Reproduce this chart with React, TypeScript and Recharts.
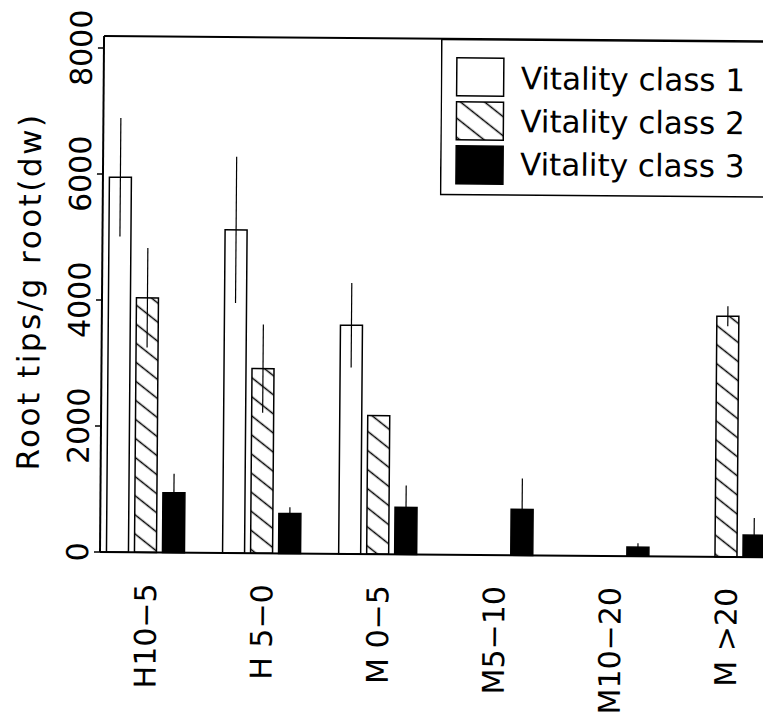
import { BarChart, Bar, XAxis, YAxis, ErrorBar, Legend, ReferenceLine, Label } from 'recharts';

const categories = ['H10−5', 'H 5−0', 'M 0−5', 'M5−10', 'M10−20', 'M >20'];
const positions = [1, 2, 3, 4, 5, 6];

const class1 = [5950, 5130, 3630, null, null, null];
const class1Err = [940, 1160, 670, null, null, null];
const class2 = [4040, 2930, 2200, null, null, 3820];
const class2Err = [790, 700, null, null, null, 160];
const class3 = [950, 635, 745, 730, 145, 350];
const class3Err = [300, 100, 350, 490, 60, 270];

const yTicks = [0, 2000, 4000, 6000, 8000];
const legendLabels = ['Vitality class 1', 'Vitality class 2', 'Vitality class 3'];

const FONT = '"DejaVu Sans", sans-serif';

const data = positions.map((pos, i) => ({
  pos,
  v1: class1[i],
  e1: class1Err[i],
  v2: class2[i],
  e2: class2Err[i],
  v3: class3[i],
  e3: class3Err[i],
}));

const HatchDefs = ({ id }: { id: string }) => (
  <defs>
    <pattern id={id} patternUnits="userSpaceOnUse" width={10} height={15} patternTransform="rotate(38)">
      <line x1={0} y1={7.5} x2={10} y2={7.5} stroke="#000" strokeWidth={1.5} />
    </pattern>
  </defs>
);

const YTick = ({ x, y, payload }: any) => (
  <text
    x={x}
    y={y}
    transform={`rotate(-90 ${x} ${y})`}
    textAnchor="middle"
    fontFamily={FONT}
    fontSize={30}
    fill="#000"
  >
    {payload.value}
  </text>
);

const XTick = ({ x, y, payload }: any) => {
  const tx = x + 11;
  return (
    <text
      x={tx}
      y={y}
      transform={`rotate(-90 ${tx} ${y})`}
      textAnchor="end"
      fontFamily={FONT}
      fontSize={30}
      fill="#000"
    >
      {categories[payload.value - 1]}
    </text>
  );
};

const YTitle = ({ viewBox }: any) => {
  const tx = viewBox.x + 38;
  const ty = viewBox.y + viewBox.height / 2 - 2;
  return (
    <text
      x={tx}
      y={ty}
      transform={`rotate(-90 ${tx} ${ty})`}
      textAnchor="middle"
      fontFamily={FONT}
      fontSize={31}
      letterSpacing={2.5}
      fill="#000"
    >
      Root tips/g root(dw)
    </text>
  );
};

const swatchFills = ['#fff', 'url(#hatchKey)', '#000'];

const LegendBox = () => (
  <svg width={360} height={160} style={{ display: 'block' }}>
    <HatchDefs id="hatchKey" />
    <rect x={0.75} y={0.75} width={400} height={155} fill="#fff" stroke="#000" strokeWidth={1.5} />
    {legendLabels.map((label, i) => (
      <g key={label}>
        <rect x={16} y={19 + i * 44} width={47} height={38} fill={swatchFills[i]} stroke="#000" strokeWidth={1.5} />
        <text x={80} y={50 + i * 43} fontFamily={FONT} fontSize={31} fill="#000">
          {label}
        </text>
      </g>
    ))}
  </svg>
);

export default function App() {
  return (
    <div style={{ position: 'absolute', left: 0, top: 0, width: 763, height: 719, overflow: 'hidden', background: '#fff' }}>
      <div style={{ transform: 'rotate(0.45deg)', transformOrigin: '100px 552px' }}>
        <BarChart
          width={820}
          height={719}
          data={data}
          margin={{ top: 36, right: 20, bottom: 7, left: 0 }}
          barSize={22}
          barGap={6}
        >
          <HatchDefs id="hatchBar" />
          <XAxis
            type="number"
            dataKey="pos"
            domain={[0.608, 6.637]}
            ticks={positions}
            allowDataOverflow
            height={160}
            tickSize={0}
            tickMargin={31}
            tick={<XTick />}
            axisLine={{ stroke: '#000', strokeWidth: 2 }}
            tickLine={false}
          />
          <YAxis
            domain={[0, 8190]}
            ticks={yTicks}
            width={100}
            tickSize={6}
            tickMargin={6}
            tick={<YTick />}
            axisLine={{ stroke: '#000', strokeWidth: 2 }}
            tickLine={{ stroke: '#000', strokeWidth: 1.5 }}
          >
            <Label content={<YTitle />} />
          </YAxis>
          <ReferenceLine y={8190} stroke="#000" strokeWidth={2} />
          <Bar dataKey="v1" fill="#fff" stroke="#000" strokeWidth={1.5} isAnimationActive={false}>
            <ErrorBar dataKey="e1" width={0} stroke="#000" strokeWidth={1.2} direction="y" />
          </Bar>
          <Bar dataKey="v2" fill="url(#hatchBar)" stroke="#000" strokeWidth={1.5} isAnimationActive={false}>
            <ErrorBar dataKey="e2" width={0} stroke="#000" strokeWidth={1.2} direction="y" />
          </Bar>
          <Bar dataKey="v3" fill="#000" stroke="#000" strokeWidth={1.5} isAnimationActive={false}>
            <ErrorBar dataKey="e3" width={0} stroke="#000" strokeWidth={1.2} direction="y" />
          </Bar>
          <Legend
            layout="horizontal"
            verticalAlign="middle"
            align="center"
            content={<LegendBox />}
            wrapperStyle={{ left: 437, top: 36, width: 360, height: 160 }}
          />
        </BarChart>
      </div>
    </div>
  );
}
